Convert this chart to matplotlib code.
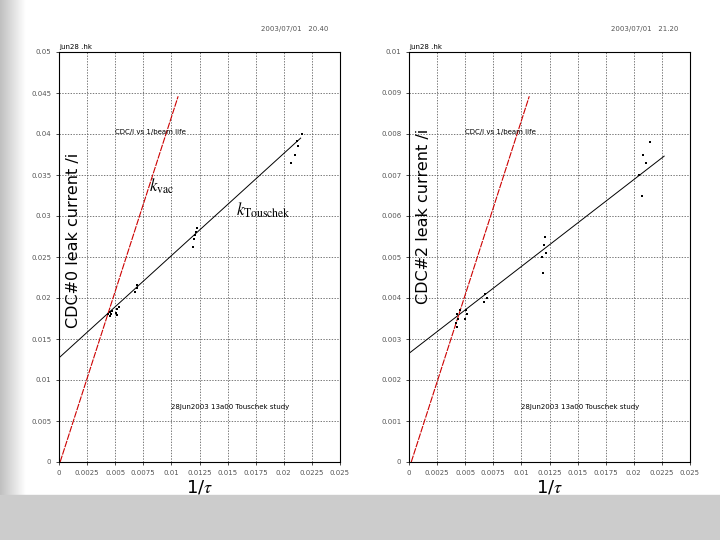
import numpy as np
import matplotlib.pyplot as plt
from matplotlib.patches import Rectangle

plt.rcParams["mathtext.fontset"] = "stix"

# data
x_ticks = [0, 0.0025, 0.005, 0.0075, 0.01, 0.0125, 0.015, 0.0175, 0.02, 0.0225, 0.025]
x_ticklabels = ["0", "0.0025", "0.005", "0.0075", "0.01", "0.0125", "0.015", "0.0175", "0.02", "0.0225", "0.025"]

# CDC#0
x0 = [0.0044, 0.0045, 0.0046, 0.0045, 0.0047, 0.0051, 0.0052, 0.0053, 0.0052, 0.0068, 0.0069, 0.0069,
      0.0120, 0.0121, 0.0122, 0.0123, 0.0119, 0.0206, 0.0210, 0.0213, 0.0216, 0.0212]
y0 = [0.0180, 0.0183, 0.0181, 0.0178, 0.0184, 0.0182, 0.0186, 0.0189, 0.0179, 0.0207, 0.0212, 0.0216,
      0.0272, 0.0277, 0.0281, 0.0285, 0.0262, 0.0365, 0.0375, 0.0385, 0.0400, 0.0392]
fit0_x = [0, 0.0215]
fit0_y = [0.0127, 0.0395]
vac0_x = [0.0001, 0.0106]
vac0_y = [0.0, 0.0446]

# CDC#2
x2 = [0.0042, 0.0043, 0.0044, 0.0043, 0.0045, 0.0050, 0.0051, 0.0052, 0.0067, 0.0068, 0.0069,
      0.0118, 0.0120, 0.0121, 0.0122, 0.0119, 0.0205, 0.0208, 0.0211, 0.0214, 0.0207]
y2 = [0.0034, 0.0036, 0.0035, 0.0033, 0.0037, 0.0035, 0.0037, 0.0036, 0.0039, 0.0041, 0.0040,
      0.0050, 0.0053, 0.0055, 0.0051, 0.0046, 0.0070, 0.0075, 0.0073, 0.0078, 0.0065]
fit2_x = [0, 0.0227]
fit2_y = [0.00265, 0.00746]
vac2_x = [0.0002, 0.0107]
vac2_y = [0.0, 0.00892]

fig = plt.figure(figsize=(7.2, 5.4), dpi=100)
fig.patches.append(Rectangle((0, 0), 1, 45 / 540, transform=fig.transFigure, color="#cccccc", zorder=0))
bg = fig.add_axes([0, 45 / 540, 26 / 720, 1 - 45 / 540], zorder=0)
bg.imshow(np.linspace(0.75, 1, 50).reshape(1, -1), cmap="gray", vmin=0, vmax=1, aspect="auto")
bg.axis("off")


def panel(left, xs, ys, fx, fy, vx, vy, ymax, yticks, ylabels, ylabel, ylab_y, stamp, k_labels):
    ax = fig.add_axes([left / 720, 1 - 462 / 540, 281 / 720, 410 / 540])
    ax.scatter(xs, ys, s=2, color="black", marker="s", lw=0, zorder=3)
    ax.plot(fx, fy, color="black", lw=0.7)
    ax.plot(vx, vy, color="#cc0000", lw=0.8, ls=(0, (6, 1)))
    ax.set_xlim(0, 0.025)
    ax.set_ylim(0, ymax)
    ax.set_xticks(x_ticks)
    ax.set_xticklabels(x_ticklabels, fontsize=5, color="#555555")
    ax.set_yticks(yticks)
    ax.set_yticklabels(ylabels, fontsize=5, color="#555555")
    ax.grid(True, ls=(0, (2, 2)), color="#444444", lw=0.5)
    ax.tick_params(length=2, width=0.5)
    ax.set_xlabel("1/$\\tau$", fontsize=13, labelpad=2)
    ax.text(0.025, ylab_y, ylabel, transform=ax.transAxes, rotation=90, fontsize=11.5, va="center", ha="left")
    ax.text(0.0, 1.005, "jun28 .hk", transform=ax.transAxes, fontsize=5, va="bottom")
    ax.text(0.96, 1.05, stamp, transform=ax.transAxes, fontsize=5, ha="right", color="#555555")
    ax.text(0.2, 0.8, "CDC/I vs 1/beam life", transform=ax.transAxes, fontsize=5)
    ax.text(0.4, 0.13, "28Jun2003 13a00 Touschek study", transform=ax.transAxes, fontsize=5)
    if k_labels:
        ax.text(0.32, 0.66, "$k_{\\rm vac}$", transform=ax.transAxes, fontsize=12)
        ax.text(0.63, 0.6, "$k_{\\rm Touschek}$", transform=ax.transAxes, fontsize=12)
    for s in ax.spines.values():
        s.set_linewidth(0.8)
    return ax


panel(59, x0, y0, fit0_x, fit0_y, vac0_x, vac0_y, 0.05,
      np.arange(0, 0.0501, 0.005),
      ["0", "0.005", "0.01", "0.015", "0.02", "0.025", "0.03", "0.035", "0.04", "0.045", "0.05"],
      "CDC#0 leak current /i", 0.54, "2003/07/01   20.40", True)
panel(409, x2, y2, fit2_x, fit2_y, vac2_x, vac2_y, 0.01,
      np.arange(0, 0.01001, 0.001),
      ["0", "0.001", "0.002", "0.003", "0.004", "0.005", "0.006", "0.007", "0.008", "0.009", "0.01"],
      "CDC#2 leak current /i", 0.6, "2003/07/01   21.20", False)

fig.savefig("out.png", dpi=100)
